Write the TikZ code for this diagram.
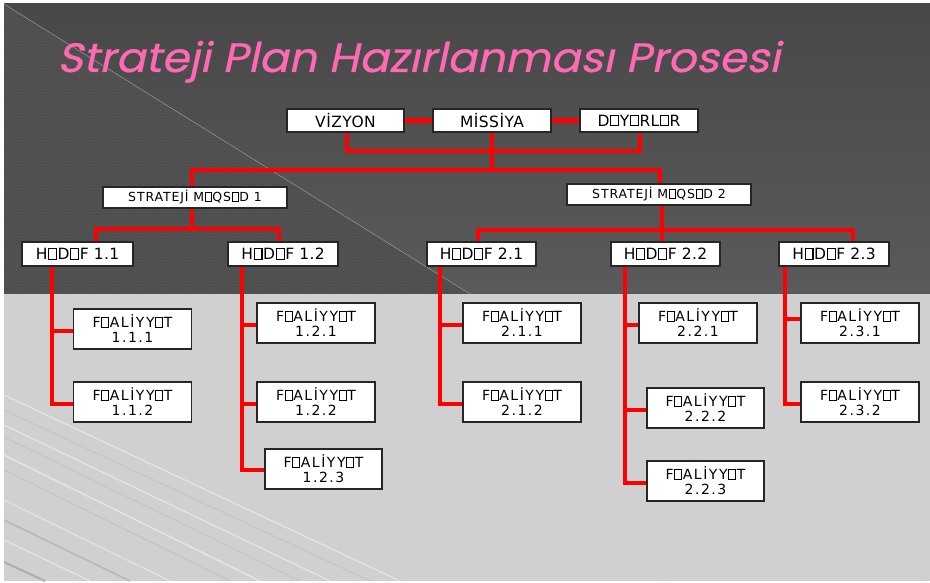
\documentclass[tikz,border=0pt]{standalone}
\usepackage{fontspec}
\setmainfont{DejaVu Sans}
\newfontfamily\titlefont{Poppins}[FakeSlant=0.2, FakeBold=0.6]
\usetikzlibrary{patterns}

% placeholder square for a glyph the font cannot show
\newcommand\nog{\kern0.04em\vbox{\hrule height0.07em\hbox{\vrule width0.07em height0.62em\kern0.44em\vrule width0.07em}\hrule height0.07em}\kern0.04em}

\definecolor{titlepink}{RGB}{255,105,180}
\definecolor{darktop}{RGB}{72,72,72}
\definecolor{darkbot}{RGB}{90,90,90}
\definecolor{texbase}{RGB}{78,78,78}
\definecolor{texdot}{RGB}{92,92,92}
\definecolor{lightbg}{RGB}{208,208,208}

\tikzset{
  box/.style={draw=black!85, line width=1.2pt, fill=white, inner sep=0pt, align=center},
  topbox/.style={box, minimum width=118pt, minimum height=23pt,
    font=\fontsize{15.5}{17}\selectfont\addfontfeature{LetterSpace=3}},
  aimbox/.style={box, minimum width=184pt, minimum height=21pt,
    font=\fontsize{12.5}{14}\selectfont\addfontfeature{LetterSpace=7}},
  goalbox/.style={box, minimum width=110pt, minimum height=24pt,
    font=\fontsize{15.5}{17}\selectfont\addfontfeature{LetterSpace=2}},
  actbox/.style={box, minimum width=118pt, minimum height=40pt,
    font=\fontsize{14}{15}\selectfont\addfontfeature{LetterSpace=11}},
  conn/.style={draw=red, line width=4.5pt},
}

\begin{document}
\begin{tikzpicture}[x=1pt, y=-1pt]
\useasboundingbox (0,0) rectangle (930,583);
\fill[white] (0,0) rectangle (930,583);

% upper dark panel
\shade[top color=darktop, bottom color=darkbot] (4,4) rectangle (930,294);
% textured wedge
\fill[texbase] (4,4) -- (470,294) -- (4,294) -- cycle;
\fill[pattern=crosshatch dots, pattern color=texdot] (4,4) -- (470,294) -- (4,294) -- cycle;
\draw[black!40, line width=0.5pt] (4,4) -- (470,294);

% lower light panel with streaks
\fill[lightbg] (4,294) rectangle (930,581);
\begin{scope}
  \clip (4,294) rectangle (930,581);
  \draw[white, opacity=0.45, line width=1.2pt] (4,395) -- (400,581);
  \draw[black!24, line width=0.8pt] (4,410) -- (370,581);
  \draw[white, opacity=0.45, line width=1.2pt] (4,425) -- (330,581);
  \draw[black!24, line width=0.8pt] (4,437) -- (300,581);
  \draw[white, opacity=0.45, line width=1.5pt] (4,455) -- (260,581);
  \draw[black!24, line width=1pt] (4,470) -- (230,581);
  \draw[white, opacity=0.4, line width=1.2pt] (4,500) -- (170,581);
  \draw[black!28, line width=1.6pt] (4,520) -- (130,581);
  \draw[white, opacity=0.45, line width=1.2pt] (4,540) -- (90,581);
  \draw[black!32, line width=2pt] (4,562) -- (45,581);
  \draw[black!20, line width=0.4pt] (640,430) -- (930,580);
  \draw[black!20, line width=0.4pt] (660,581) -- (930,425);
\end{scope}

% title
\node[anchor=base west, inner sep=0pt, text=titlepink,
      font=\titlefont\fontsize{41}{41}\selectfont] (title) at (57,72)
      {\scalebox{1.075}[1]{Strateji Plan Hazırlanması Prosesi}};

% top row
\node[topbox, minimum width=117pt] (viz) at (345.5,120.5) {VİZYON};
\node[topbox] (mis) at (492,120.5) {MİSSİYA};
\node[topbox] (dey) at (639,120.5) {D\nog Y\nog RL\nog R};

% strategic aims
\node[aimbox] (sm1) at (195,197.5) {STRATEJİ M\nog QS\nog D 1};
\node[aimbox] (sm2) at (659,194.5) {STRATEJİ M\nog QS\nog D 2};

% goals
\node[goalbox, minimum width=111pt] (h11) at (77.5,254) {H\nog D\nog F 1.1};
\node[goalbox] (h12) at (283,254) {H\nog D\nog F 1.2};
\node[goalbox, minimum width=109pt] (h21) at (481.5,254) {H\nog D\nog F 2.1};
\node[goalbox, minimum width=109pt] (h22) at (665.5,254) {H\nog D\nog F 2.2};
\node[goalbox] (h23) at (834,254) {H\nog D\nog F 2.3};

% activities
\node[actbox] (f111) at (132.5,329) {F\nog ALİYY\nog T\\1.1.1};
\node[actbox] (f112) at (132.5,402) {F\nog ALİYY\nog T\\1.1.2};
\node[actbox] (f121) at (316,323) {F\nog ALİYY\nog T\\1.2.1};
\node[actbox] (f122) at (316,402) {F\nog ALİYY\nog T\\1.2.2};
\node[actbox, minimum width=117pt] (f123) at (323.5,469) {F\nog ALİYY\nog T\\1.2.3};
\node[actbox] (f211) at (522,323) {F\nog ALİYY\nog T\\2.1.1};
\node[actbox] (f212) at (522,402) {F\nog ALİYY\nog T\\2.1.2};
\node[actbox] (f221) at (698,323) {F\nog ALİYY\nog T\\2.2.1};
\node[actbox, minimum width=117pt] (f222) at (705.5,408) {F\nog ALİYY\nog T\\2.2.2};
\node[actbox, minimum width=117pt] (f223) at (705.5,481) {F\nog ALİYY\nog T\\2.2.3};
\node[actbox] (f231) at (860,323) {F\nog ALİYY\nog T\\2.3.1};
\node[actbox] (f232) at (860,402) {F\nog ALİYY\nog T\\2.3.2};

% junction points
\coordinate (j1) at (492,151);
\coordinate (j0) at (492,170);
\coordinate (j2) at (192,229);
\coordinate (j3) at (662,230);

% connectors: top row
\draw[conn] (viz) -- (mis);
\draw[conn] (mis) -- (dey);
\draw[conn] ([xshift=1.5pt]viz.south) |- (j1) -| ([xshift=1pt]dey.south);
\draw[conn] (mis.south) -- (j0);
\draw[conn] ([xshift=-3pt]sm1.north) |- (j0) -| ([xshift=1pt]sm2.north);

% connectors: aims to goals
\draw[conn] ([xshift=-3pt]sm1.south) -- (j2);
\draw[conn] ([xshift=18.5pt]h11.north) |- (j2) -| ([xshift=-4pt]h12.north);
\draw[conn] ([xshift=3pt]sm2.south) -- (j3);
\draw[conn] ([xshift=-3.5pt]h21.north) |- (j3) -| ([xshift=19pt]h23.north);
\draw[conn] ([xshift=-3.5pt]h22.north) -- ([xshift=-3.5pt]h22.north |- j3);

% connectors: goals to activities
\coordinate (t11) at ([xshift=-25.5pt]h11.south);
\draw[conn] (t11) |- ([yshift=-2pt]f112.west);
\draw[conn] ([yshift=-2pt]f111.west) -| (t11);

\coordinate (t12) at ([xshift=-41pt]h12.south);
\draw[conn] (t12) |- ([yshift=-1pt]f123.west);
\draw[conn] ([yshift=-2pt]f121.west) -| (t12);
\draw[conn] ([yshift=-2pt]f122.west) -| (t12);

\coordinate (t21) at ([xshift=-41.5pt]h21.south);
\draw[conn] (t21) |- ([yshift=-2pt]f212.west);
\draw[conn] ([yshift=-2pt]f211.west) -| (t21);

\coordinate (t22) at ([xshift=-40.5pt]h22.south);
\draw[conn] (t22) |- ([yshift=-2pt]f223.west);
\draw[conn] ([yshift=-2pt]f221.west) -| (t22);
\draw[conn] ([yshift=-2pt]f222.west) -| (t22);

\coordinate (t23) at ([xshift=-49pt]h23.south);
\draw[conn] (t23) |- ([yshift=-2pt]f232.west);
\draw[conn] ([yshift=4pt]f231.west) -| (t23);
\end{tikzpicture}
\end{document}
